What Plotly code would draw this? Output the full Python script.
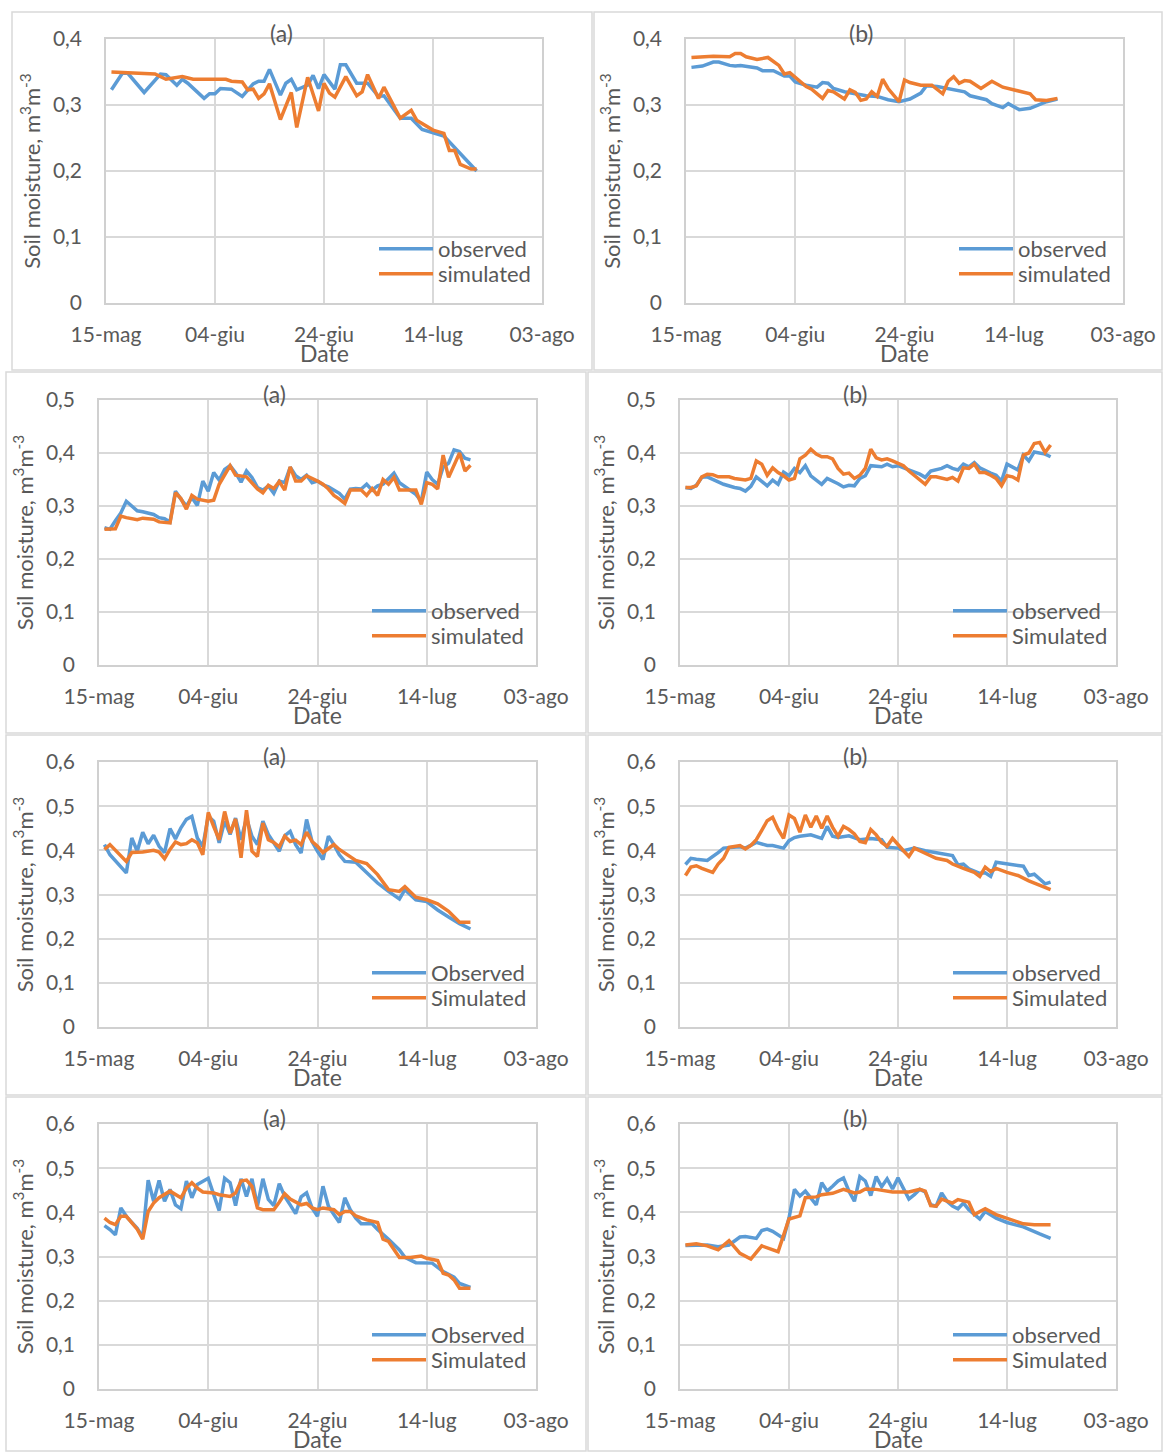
import plotly.graph_objects as go

# Canvas
W, H = 1163, 1452

# Shared axis ticks: days since 15 May and their date labels
tick_days = [0, 20, 40, 60, 80]
tick_dates = ["15-mag", "04-giu", "24-giu", "14-lug", "03-ago"]
y_ticks_04 = [0, 0.1, 0.2, 0.3, 0.4]
y_labels_04 = ["0", "0,1", "0,2", "0,3", "0,4"]
y_ticks_05 = [0, 0.1, 0.2, 0.3, 0.4, 0.5]
y_labels_05 = ["0", "0,1", "0,2", "0,3", "0,4", "0,5"]
y_ticks_06 = [0, 0.1, 0.2, 0.3, 0.4, 0.5, 0.6]
y_labels_06 = ["0", "0,1", "0,2", "0,3", "0,4", "0,5", "0,6"]

# ---- Row 1, panel (a) ----
r1a_obs_day = [1, 3, 4, 7, 10, 11, 13, 14, 15, 18, 19, 20, 21, 23, 25, 27, 28, 29, 30, 32, 33, 34, 35, 37, 38, 39, 40, 42, 43, 44, 46, 48, 50, 51, 54, 56, 58, 60, 62, 68]
r1a_obs = [.323, .348, .348, .319, .347, .346, .330, .339, .333, .310, .317, .317, .325, .324, .313, .332, .336, .336, .354, .315, .333, .339, .323, .330, .345, .325, .346, .324, .361, .361, .333, .333, .313, .314, .280, .280, .263, .258, .253, .200]
r1a_sim_day = [1, 3, 5, 9, 11, 14, 16, 22, 23, 25, 26, 27, 28, 29, 30, 32, 34, 35, 37, 39, 40, 41, 42, 44, 46, 47, 48, 50, 51, 54, 56, 57, 60, 62, 63, 64, 65, 67, 68]
r1a_sim = [.350, .349, .349, .347, .339, .343, .339, .339, .336, .335, .323, .324, .310, .317, .332, .278, .319, .266, .342, .291, .333, .318, .312, .343, .314, .320, .346, .310, .327, .280, .292, .277, .262, .257, .231, .231, .210, .203, .203]

# ---- Row 1, panel (b) ----
r1b_obs_day = [1, 3, 5, 6, 8, 9, 10, 12, 13, 14, 16, 18, 19, 20, 22, 24, 25, 26, 27, 29, 31, 33, 35, 37, 39, 41, 43, 44, 46, 49, 51, 52, 53, 55, 56, 58, 59, 61, 63, 64, 66, 68]
r1b_obs = [.357, .359, .365, .365, .360, .359, .360, .357, .356, .352, .352, .344, .344, .335, .330, .327, .334, .333, .325, .320, .317, .314, .313, .308, .305, .309, .318, .329, .328, .324, .320, .314, .312, .308, .302, .296, .302, .293, .295, .298, .305, .309]
r1b_sim_day = [1, 3, 5, 8, 9, 10, 11, 13, 14, 15, 17, 18, 19, 21, 22, 23, 25, 26, 27, 29, 30, 31, 32, 33, 34, 35, 36, 37, 38, 39, 40, 41, 43, 45, 47, 48, 49, 50, 51, 52, 54, 56, 58, 60, 62, 63, 64, 66, 68]
r1b_sim = [.372, .373, .374, .373, .378, .378, .373, .369, .371, .372, .360, .347, .349, .334, .328, .324, .310, .322, .320, .309, .323, .319, .307, .309, .320, .313, .339, .325, .315, .305, .338, .334, .330, .330, .317, .336, .343, .333, .337, .336, .325, .336, .327, .323, .320, .317, .308, .307, .310]

# ---- Row 2, panel (a) ----
r2a_obs_day = [1, 2, 3, 4, 5, 6, 7, 8, 10, 11, 12, 13, 14, 15, 16, 17, 18, 19, 20, 21, 22, 23, 24, 25, 26, 27, 28, 29, 30, 31, 32, 33, 34, 35, 36, 37, 38, 39, 40, 41, 42, 44, 45, 46, 47, 48, 49, 50, 51, 52, 54, 55, 57, 58, 59, 60, 61, 62, 63, 64, 65, 66, 67, 68]
r2a_obs = [.259, .256, .272, .287, .309, .300, .291, .289, .284, .278, .276, .270, .328, .313, .300, .316, .301, .347, .328, .363, .349, .369, .376, .363, .345, .366, .354, .335, .330, .338, .324, .347, .344, .373, .357, .350, .358, .344, .347, .340, .336, .324, .313, .332, .333, .332, .341, .330, .338, .341, .362, .344, .330, .322, .309, .364, .350, .341, .373, .381, .406, .403, .390, .387]
r2a_sim_day = [1, 3, 4, 5, 7, 8, 10, 11, 13, 14, 15, 16, 17, 18, 20, 21, 22, 23, 24, 25, 27, 29, 30, 31, 32, 33, 34, 35, 36, 37, 38, 40, 41, 42, 43, 44, 45, 46, 48, 49, 50, 51, 52, 53, 54, 55, 58, 59, 60, 61, 62, 63, 64, 66, 67, 68]
r2a_sim = [.256, .257, .281, .278, .274, .277, .275, .270, .268, .325, .314, .294, .320, .313, .309, .311, .341, .357, .376, .358, .355, .332, .325, .339, .333, .346, .330, .374, .347, .347, .357, .347, .341, .332, .320, .313, .305, .330, .330, .320, .333, .320, .350, .341, .354, .330, .330, .303, .344, .341, .332, .396, .354, .400, .366, .377]

# ---- Row 2, panel (b) ----
r2b_obs_day = [1, 2, 3, 4, 5, 7, 8, 10, 11, 12, 13, 14, 15, 16, 17, 18, 19, 20, 21, 22, 23, 24, 26, 27, 29, 30, 31, 32, 33, 34, 35, 37, 38, 39, 40, 42, 44, 45, 46, 48, 49, 50, 51, 52, 53, 54, 55, 57, 58, 59, 60, 62, 63, 64, 65, 67, 68]
r2b_obs = [.335, .333, .339, .354, .355, .345, .341, .335, .333, .328, .337, .355, .347, .338, .349, .341, .364, .357, .371, .363, .376, .357, .341, .352, .342, .336, .339, .338, .352, .357, .376, .374, .379, .374, .376, .368, .360, .354, .366, .371, .376, .371, .368, .379, .374, .382, .372, .362, .358, .347, .379, .368, .396, .385, .402, .398, .393]
r2b_sim_day = [1, 2, 3, 4, 5, 6, 7, 9, 10, 12, 13, 14, 15, 16, 17, 18, 19, 20, 21, 22, 23, 24, 25, 26, 27, 28, 29, 30, 31, 32, 33, 34, 35, 36, 37, 38, 39, 41, 42, 43, 45, 46, 47, 49, 50, 51, 52, 53, 54, 55, 56, 57, 58, 59, 60, 61, 62, 63, 64, 65, 66, 67, 68]
r2b_sim = [.335, .335, .338, .355, .360, .359, .355, .355, .352, .349, .352, .385, .379, .358, .372, .363, .357, .349, .352, .389, .396, .407, .398, .393, .393, .389, .371, .360, .362, .352, .358, .371, .407, .391, .387, .389, .385, .376, .366, .357, .341, .355, .355, .350, .354, .347, .372, .371, .379, .363, .363, .358, .352, .338, .357, .355, .349, .396, .400, .418, .420, .401, .415]

# ---- Row 3, panel (a) ----
r3a_obs_day = [1, 2, 5, 6, 7, 8, 9, 10, 11, 12, 13, 14, 15, 16, 17, 18, 19, 20, 21, 22, 23, 24, 25, 26, 27, 28, 29, 30, 31, 32, 33, 34, 35, 36, 37, 38, 39, 40, 41, 42, 43, 44, 45, 47, 49, 51, 53, 55, 56, 58, 60, 62, 64, 66, 68]
r3a_obs = [.413, .390, .349, .428, .398, .441, .415, .434, .409, .395, .449, .426, .451, .470, .477, .428, .409, .477, .466, .417, .466, .436, .473, .424, .473, .432, .413, .466, .436, .417, .398, .433, .443, .413, .394, .470, .420, .398, .379, .432, .413, .390, .375, .373, .349, .326, .307, .290, .311, .288, .284, .265, .249, .234, .222]
r3a_sim_day = [1, 2, 5, 6, 8, 10, 11, 12, 13, 14, 15, 16, 17, 18, 19, 20, 21, 22, 23, 24, 25, 26, 27, 28, 29, 30, 31, 32, 33, 34, 35, 36, 37, 38, 39, 40, 41, 42, 43, 44, 46, 47, 49, 51, 53, 55, 56, 58, 60, 62, 64, 66, 68]
r3a_sim = [.402, .413, .375, .395, .396, .400, .396, .381, .402, .419, .413, .415, .424, .417, .390, .486, .454, .424, .488, .439, .471, .383, .491, .398, .386, .462, .424, .418, .408, .432, .420, .423, .413, .441, .420, .409, .395, .403, .413, .402, .384, .377, .370, .345, .311, .307, .318, .294, .288, .279, .262, .237, .237]

# ---- Row 3, panel (b) ----
r3b_obs_day = [1, 2, 3, 5, 7, 8, 11, 12, 14, 16, 17, 19, 20, 21, 22, 24, 26, 27, 28, 29, 31, 33, 35, 37, 38, 40, 41, 43, 45, 50, 51, 52, 53, 55, 56, 57, 58, 63, 64, 65, 67, 68]
r3b_obs = [.368, .382, .380, .377, .395, .405, .408, .405, .418, .411, .411, .405, .422, .429, .432, .435, .427, .454, .432, .429, .433, .424, .427, .424, .407, .405, .399, .405, .399, .388, .367, .369, .358, .348, .349, .341, .373, .364, .343, .346, .324, .328]
r3b_sim_day = [1, 2, 3, 4, 6, 7, 8, 9, 11, 12, 13, 14, 15, 16, 17, 18, 19, 20, 21, 22, 23, 24, 25, 26, 27, 28, 29, 30, 31, 32, 33, 34, 35, 36, 37, 38, 39, 40, 41, 42, 43, 44, 46, 47, 49, 50, 52, 54, 55, 56, 57, 58, 60, 62, 64, 66, 68]
r3b_sim = [.343, .362, .365, .359, .350, .369, .382, .407, .411, .403, .411, .424, .445, .467, .475, .448, .427, .480, .472, .441, .480, .452, .478, .450, .478, .452, .432, .454, .447, .437, .420, .417, .447, .435, .418, .409, .427, .412, .399, .386, .405, .399, .389, .382, .377, .369, .359, .350, .341, .362, .352, .359, .350, .343, .331, .321, .311]

# ---- Row 4, panel (a) ----
r4a_obs_day = [1, 2, 3, 4, 5, 7, 8, 9, 10, 11, 12, 13, 14, 15, 16, 17, 18, 20, 21, 22, 23, 24, 25, 26, 27, 28, 29, 30, 31, 32, 33, 34, 35, 36, 37, 38, 39, 40, 41, 42, 43, 44, 45, 46, 47, 48, 50, 51, 53, 55, 56, 58, 61, 63, 65, 66, 68]
r4a_obs = [.370, .361, .349, .410, .391, .364, .344, .473, .425, .472, .425, .452, .417, .408, .471, .433, .463, .477, .440, .404, .477, .467, .415, .476, .436, .476, .414, .476, .429, .415, .465, .436, .417, .397, .435, .444, .410, .391, .459, .414, .395, .377, .433, .406, .387, .374, .374, .361, .339, .315, .298, .286, .285, .266, .253, .239, .230]
r4a_sim_day = [1, 2, 3, 4, 5, 7, 8, 9, 10, 11, 13, 14, 15, 16, 17, 18, 19, 21, 22, 24, 25, 26, 27, 28, 29, 30, 32, 33, 34, 35, 37, 38, 39, 40, 41, 43, 44, 45, 46, 47, 49, 51, 52, 53, 55, 57, 59, 60, 62, 63, 64, 65, 66, 68]
r4a_sim = [.387, .377, .372, .391, .391, .362, .339, .402, .421, .433, .448, .440, .433, .455, .467, .455, .446, .444, .440, .436, .444, .471, .473, .459, .410, .406, .406, .423, .442, .430, .417, .420, .410, .406, .410, .406, .395, .402, .402, .392, .383, .377, .339, .334, .298, .298, .301, .296, .291, .262, .258, .247, .228, .228]

# ---- Row 4, panel (b) ----
r4b_obs_day = [1, 3, 5, 7, 9, 11, 12, 14, 15, 16, 17, 19, 20, 21, 22, 23, 25, 26, 27, 28, 29, 30, 31, 32, 33, 34, 35, 36, 37, 38, 39, 40, 41, 42, 43, 44, 45, 46, 47, 48, 49, 50, 51, 52, 53, 54, 55, 56, 58, 60, 63, 66, 68]
r4b_obs = [.325, .326, .326, .322, .326, .344, .345, .341, .359, .362, .357, .341, .387, .452, .437, .448, .417, .467, .448, .459, .471, .478, .448, .425, .481, .471, .438, .481, .458, .476, .453, .478, .452, .430, .440, .452, .446, .417, .414, .444, .425, .414, .408, .421, .406, .395, .385, .402, .387, .377, .367, .351, .341]
r4b_sim_day = [1, 3, 5, 7, 9, 11, 13, 15, 18, 20, 22, 23, 25, 26, 28, 30, 32, 33, 34, 36, 39, 42, 44, 45, 46, 47, 48, 50, 51, 53, 54, 56, 58, 61, 63, 65, 68]
r4b_sim = [.326, .329, .324, .315, .336, .307, .294, .324, .311, .385, .392, .433, .435, .440, .443, .452, .444, .446, .453, .452, .446, .446, .452, .448, .415, .414, .430, .421, .429, .423, .395, .408, .395, .382, .374, .372, .372]

BLUE = "#5B9BD5"
ORANGE = "#ED7D31"
GRID = "#D9D9D9"
TEXT = "#595959"
FONT = "Lato"

# panel: (obs days, obs, sim days, sim, y ticks, y labels, title, legend labels,
#         plot box in px: left, top, right, bottom)
panels = [
    (r1a_obs_day, r1a_obs, r1a_sim_day, r1a_sim, y_ticks_04, y_labels_04, "(a)", ("observed", "simulated"), (106, 39, 542, 303)),
    (r1b_obs_day, r1b_obs, r1b_sim_day, r1b_sim, y_ticks_04, y_labels_04, "(b)", ("observed", "simulated"), (686, 39, 1123, 303)),
    (r2a_obs_day, r2a_obs, r2a_sim_day, r2a_sim, y_ticks_05, y_labels_05, "(a)", ("observed", "simulated"), (99, 400, 536, 665)),
    (r2b_obs_day, r2b_obs, r2b_sim_day, r2b_sim, y_ticks_05, y_labels_05, "(b)", ("observed", "Simulated"), (680, 400, 1116, 665)),
    (r3a_obs_day, r3a_obs, r3a_sim_day, r3a_sim, y_ticks_06, y_labels_06, "(a)", ("Observed", "Simulated"), (99, 762, 536, 1027)),
    (r3b_obs_day, r3b_obs, r3b_sim_day, r3b_sim, y_ticks_06, y_labels_06, "(b)", ("observed", "Simulated"), (680, 762, 1116, 1027)),
    (r4a_obs_day, r4a_obs, r4a_sim_day, r4a_sim, y_ticks_06, y_labels_06, "(a)", ("Observed", "Simulated"), (99, 1124, 536, 1389)),
    (r4b_obs_day, r4b_obs, r4b_sim_day, r4b_sim, y_ticks_06, y_labels_06, "(b)", ("observed", "Simulated"), (680, 1124, 1116, 1389)),
]

# chart-area frames (px): left, top, right, bottom
frames = [
    (12, 12, 592, 370), (594, 12, 1162, 370),
    (6, 372, 586, 733), (588, 372, 1162, 733),
    (6, 735, 586, 1095), (588, 735, 1162, 1095),
    (6, 1097, 586, 1451), (588, 1097, 1162, 1451),
]


def px(x):
    return x / W


def py(y):
    return 1 - y / H


fig = go.Figure()
layout = dict(
    width=W, height=H, margin=dict(l=0, r=0, t=0, b=0, autoexpand=False),
    paper_bgcolor="white", plot_bgcolor="white", showlegend=True,
    font=dict(family=FONT, color=TEXT, size=21),
    annotations=[], shapes=[],
)

for i, (od, ov, sd, sv, yt, yl, title, names, box) in enumerate(panels):
    n = i + 1
    xa = "xaxis" if n == 1 else f"xaxis{n}"
    ya = "yaxis" if n == 1 else f"yaxis{n}"
    xr = "x" if n == 1 else f"x{n}"
    yr = "y" if n == 1 else f"y{n}"
    # one single-entry legend per series, stacked inside the plot area
    lg_obs = "legend" if n == 1 else f"legend{2 * n - 1}"
    lg_sim = f"legend{2 * n}"
    l, t, r, b = box

    fig.add_trace(go.Scatter(x=od, y=ov, mode="lines", name=names[0], showlegend=True,
                             line=dict(color=BLUE, width=3.5), xaxis=xr, yaxis=yr, legend=lg_obs))
    fig.add_trace(go.Scatter(x=sd, y=sv, mode="lines", name=names[1], showlegend=True,
                             line=dict(color=ORANGE, width=3.5), xaxis=xr, yaxis=yr, legend=lg_sim))

    layout[xa] = dict(
        domain=[px(l), px(r)], anchor=yr, range=[0, 80], automargin=False,
        tickvals=tick_days, ticktext=tick_dates, showgrid=True, gridcolor=GRID, gridwidth=1.5,
        showline=True, linecolor="#D0D0D0", linewidth=1.5, mirror=True, zeroline=False,
        ticks="", ticklabelstandoff=12, tickfont=dict(size=21, color=TEXT),
        fixedrange=True,
    )
    layout[ya] = dict(
        domain=[py(b), py(t)], anchor=xr, range=[0, yt[-1]], automargin=False,
        tickvals=yt, ticktext=yl, showgrid=True, gridcolor=GRID, gridwidth=1.5,
        showline=True, linecolor="#D0D0D0", linewidth=1.5, mirror=True, zeroline=False,
        ticks="", ticklabelstandoff=18, tickfont=dict(size=21, color=TEXT),
        title=dict(text="Soil moisture, m<sup>3</sup>m<sup>-3</sup>", font=dict(size=22, color=TEXT), standoff=6),
        fixedrange=True,
    )
    for lg, top in ((lg_obs, b - 75), (lg_sim, b - 50)):
        layout[lg] = dict(
            x=px(l + 268), y=py(top), xanchor="left", yanchor="top",
            bgcolor="rgba(0,0,0,0)", font=dict(size=22, color=TEXT),
            itemwidth=54, visible=True,
        )
    # panel letter
    layout["annotations"].append(dict(
        text=title, x=px((l + r) / 2 - 43), y=py(t - 6), xref="paper", yref="paper",
        showarrow=False, font=dict(size=23, color=TEXT), xanchor="center", yanchor="middle",
    ))
    # x-axis title, tucked right under the date labels
    layout["annotations"].append(dict(
        text="Date", x=px((l + r) / 2), y=py(b + 50), xref="paper", yref="paper",
        showarrow=False, font=dict(size=23, color=TEXT), xanchor="center", yanchor="middle",
    ))

for (l, t, r, b) in frames:
    layout["shapes"].append(dict(
        type="rect", xref="paper", yref="paper", x0=px(l), y0=py(b), x1=px(r), y1=py(t),
        line=dict(color=GRID, width=1.5), layer="below",
    ))

fig.update_layout(**layout)
fig.write_html("out.html")
